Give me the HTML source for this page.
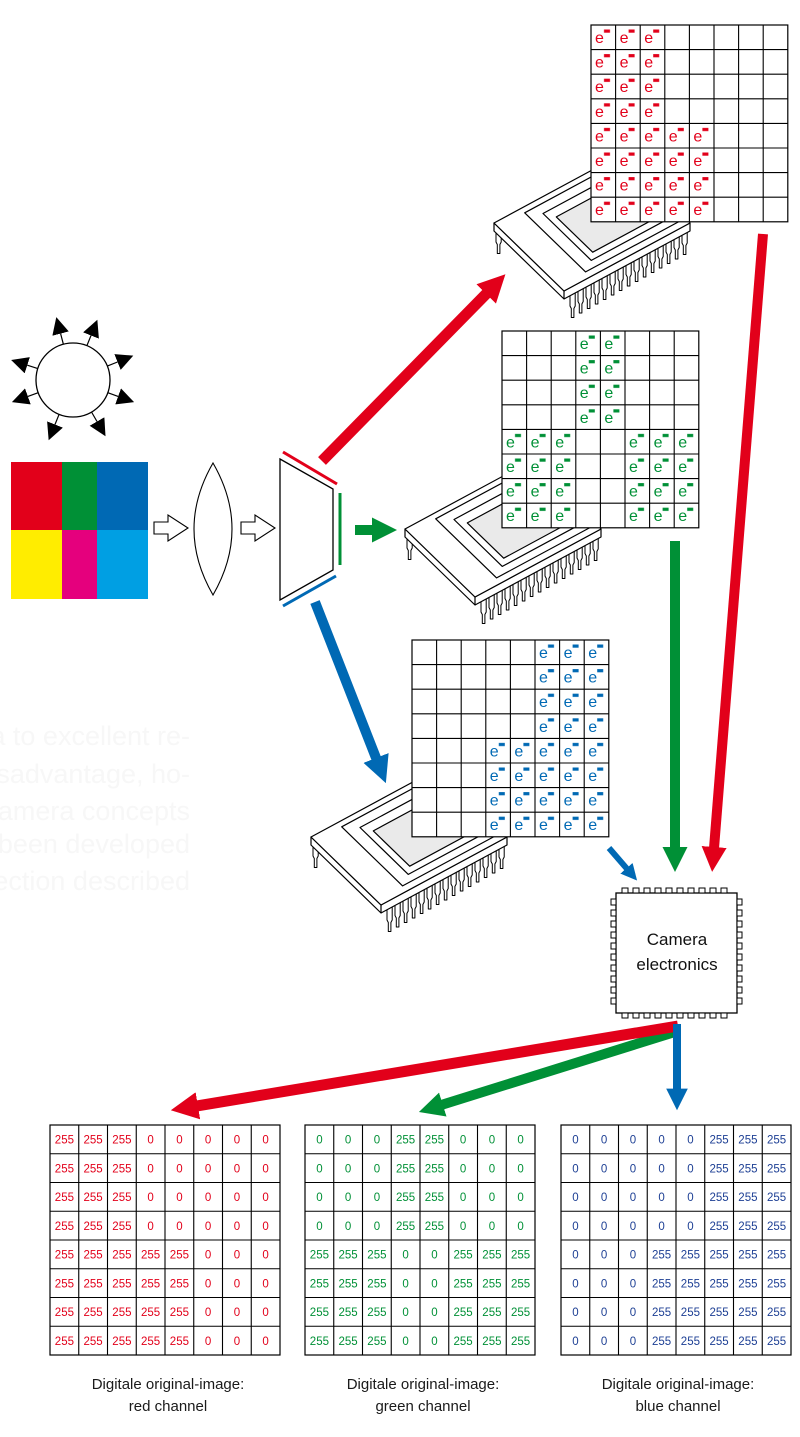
<!DOCTYPE html>
<html><head><meta charset="utf-8"><style>html,body{margin:0;padding:0;background:#fff}svg{display:block}</style></head><body>
<svg width="800" height="1437" viewBox="0 0 800 1437" xmlns="http://www.w3.org/2000/svg" font-family="Liberation Sans, sans-serif">
<defs>
<pattern id="bR" width="24.6" height="24.6" patternUnits="userSpaceOnUse"><rect x="13" y="4.5" width="6" height="3.2" fill="#e2001a"/></pattern>
<pattern id="bG" width="24.6" height="24.6" patternUnits="userSpaceOnUse"><rect x="13" y="4.5" width="6" height="3.2" fill="#009036"/></pattern>
<pattern id="bB" width="24.6" height="24.6" patternUnits="userSpaceOnUse"><rect x="13" y="4.5" width="6" height="3.2" fill="#0069b4"/></pattern>
<marker id="mR" viewBox="0 0 10 10" refX="2" refY="5" markerWidth="2.5" markerHeight="2.5" orient="auto"><path d="M0,0L10,5L0,10z" fill="#e2001a"/></marker>
<marker id="mG" viewBox="0 0 10 10" refX="2" refY="5" markerWidth="2.5" markerHeight="2.5" orient="auto"><path d="M0,0L10,5L0,10z" fill="#009036"/></marker>
<marker id="mB" viewBox="0 0 10 10" refX="2" refY="5" markerWidth="2.7" markerHeight="2.7" orient="auto"><path d="M0,0L10,5L0,10z" fill="#0069b4"/></marker>
<marker id="mK" viewBox="0 0 10 10" refX="0" refY="5" markerWidth="17" markerHeight="17" markerUnits="userSpaceOnUse" orient="auto"><path d="M0,0L10,5L0,10z" fill="#000"/></marker>
<path id="pin" d="M0 0v13l1.3 2.5v9h2.6v-9l1.3-2.5v-13" fill="#fff" stroke="#000" stroke-width="1"/>
<g id="chip" stroke="#000" stroke-width="1.2" stroke-linejoin="round">
  <g>
   <use href="#pin" x="2" y="6"/>
   <use href="#pin" x="76" y="70"/><use href="#pin" x="84" y="65.5"/><use href="#pin" x="92" y="61"/><use href="#pin" x="100" y="56.5"/><use href="#pin" x="108" y="52"/><use href="#pin" x="116" y="47.5"/><use href="#pin" x="124" y="43"/><use href="#pin" x="132" y="38.5"/><use href="#pin" x="140" y="34"/><use href="#pin" x="148" y="29.5"/><use href="#pin" x="156" y="25"/><use href="#pin" x="164" y="20.5"/><use href="#pin" x="172" y="16"/><use href="#pin" x="180" y="11.5"/><use href="#pin" x="188" y="7"/>
  </g>
  <path d="M0 0L70 68L196 0V8L70 76L0 8z" fill="#fff"/>
  <path d="M70 68V76"/>
  <path d="M0 0L70 68L196 0L126 -68z" fill="#fff"/>
  <path d="M30.7 -10.2L91.6 48.9L188.6 -3.4L127.7 -62.5z" fill="#fff"/>
  <path d="M49 -9.5L97.3 37.4L179.2 -6.8L130.9 -53.7z" fill="#fff"/>
  <path d="M62.3 -6.1L98.7 29.2L170.5 -9.6L134.1 -44.9z" fill="#eaeaea"/>
</g>
<path id="sgl" d="M24.6 0V196.8M49.2 0V196.8M73.8 0V196.8M98.4 0V196.8M123 0V196.8M147.6 0V196.8M172.2 0V196.8M0 24.6H196.8M0 49.2H196.8M0 73.8H196.8M0 98.4H196.8M0 123H196.8M0 147.6H196.8M0 172.2H196.8" stroke="#000" stroke-width="1.1" fill="none"/>
<path id="bgl" d="M28.75 0V230M57.5 0V230M86.25 0V230M115 0V230M143.75 0V230M172.5 0V230M201.25 0V230M0 28.75H230M0 57.5H230M0 86.25H230M0 115H230M0 143.75H230M0 172.5H230M0 201.25H230" stroke="#000" stroke-width="1.1" fill="none"/>
</defs>

<g fill="#f7f7f7" font-size="27" text-anchor="end">
<text x="190" y="745">a to excellent re-</text>
<text x="190" y="783">disadvantage, ho-</text>
<text x="190" y="820">camera concepts</text>
<text x="190" y="853">been developed</text>
<text x="190" y="890">ection described</text>
</g>

<circle cx="73" cy="380" r="37" fill="#fff" stroke="#000" stroke-width="1.3"/>
<g stroke="#000" stroke-width="1.2" marker-end="url(#mK)">
<line x1="63.4" y1="344.3" x2="60.6" y2="333.6"/>
<line x1="86.9" y1="345.7" x2="91" y2="335.5"/>
<line x1="107.3" y1="366.1" x2="117.5" y2="362"/>
<line x1="107.8" y1="392.7" x2="118.1" y2="396.4"/>
<line x1="91.5" y1="412" x2="97" y2="421.5"/>
<line x1="59.1" y1="414.3" x2="55" y2="424.5"/>
<line x1="38.2" y1="392.7" x2="27.9" y2="396.4"/>
<line x1="37.8" y1="368.6" x2="27.3" y2="365.2"/>
</g>

<rect x="11" y="462" width="51" height="68" fill="#e2001a"/>
<rect x="62" y="462" width="35" height="68" fill="#009036"/>
<rect x="97" y="462" width="51" height="68" fill="#0069b4"/>
<rect x="11" y="530" width="51" height="69" fill="#ffed00"/>
<rect x="62" y="530" width="35" height="69" fill="#e5007d"/>
<rect x="97" y="530" width="51" height="69" fill="#009fe3"/>

<g fill="#fff" stroke="#000" stroke-width="1.1">
<polygon points="154,522 168,522 168,515 188,528 168,541 168,534 154,534"/>
<polygon points="241,522 255,522 255,515 275,528 255,541 255,534 241,534"/>
<path d="M213 463Q251 529 213 595Q175 529 213 463z"/>
<polygon points="280,459 333,489 333,570 280,600" stroke-width="1.3"/>
</g>
<line x1="283" y1="452" x2="337" y2="484" stroke="#e2001a" stroke-width="3"/>
<line x1="340" y1="493" x2="340" y2="565" stroke="#009036" stroke-width="3"/>
<line x1="283" y1="606" x2="336" y2="576" stroke="#0069b4" stroke-width="3"/>

<use href="#chip" x="494" y="223"/>
<use href="#chip" x="405" y="529"/>
<use href="#chip" x="311" y="837"/>

<g transform="translate(591,25)">
<rect width="196.8" height="196.8" fill="#fff" stroke="#000" stroke-width="1.2"/><use href="#sgl"/>
<rect x="0" y="0" width="73.8" height="98.4" fill="url(#bR)"/><rect x="0" y="98.4" width="123" height="98.4" fill="url(#bR)"/>
<g fill="#e2001a" font-size="16">
<text x="4 28.6 53.2" y="18">eee</text><text x="4 28.6 53.2" y="42.6">eee</text><text x="4 28.6 53.2" y="67.2">eee</text><text x="4 28.6 53.2" y="91.8">eee</text>
<text x="4 28.6 53.2 77.8 102.4" y="116.4">eeeee</text><text x="4 28.6 53.2 77.8 102.4" y="141">eeeee</text><text x="4 28.6 53.2 77.8 102.4" y="165.6">eeeee</text><text x="4 28.6 53.2 77.8 102.4" y="190.2">eeeee</text>
</g></g>
<g transform="translate(502,331)">
<rect width="196.8" height="196.8" fill="#fff" stroke="#000" stroke-width="1.2"/><use href="#sgl"/>
<rect x="73.8" y="0" width="49.2" height="98.4" fill="url(#bG)"/><rect x="0" y="98.4" width="73.8" height="98.4" fill="url(#bG)"/><rect x="123" y="98.4" width="73.8" height="98.4" fill="url(#bG)"/>
<g fill="#009036" font-size="16">
<text x="77.8 102.4" y="18">ee</text><text x="77.8 102.4" y="42.6">ee</text><text x="77.8 102.4" y="67.2">ee</text><text x="77.8 102.4" y="91.8">ee</text>
<text x="4 28.6 53.2 127 151.6 176.2" y="116.4">eeeeee</text><text x="4 28.6 53.2 127 151.6 176.2" y="141">eeeeee</text><text x="4 28.6 53.2 127 151.6 176.2" y="165.6">eeeeee</text><text x="4 28.6 53.2 127 151.6 176.2" y="190.2">eeeeee</text>
</g></g>
<g transform="translate(412,640)">
<rect width="196.8" height="196.8" fill="#fff" stroke="#000" stroke-width="1.2"/><use href="#sgl"/>
<rect x="123" y="0" width="73.8" height="98.4" fill="url(#bB)"/><rect x="73.8" y="98.4" width="123" height="98.4" fill="url(#bB)"/>
<g fill="#0069b4" font-size="16">
<text x="127 151.6 176.2" y="18">eee</text><text x="127 151.6 176.2" y="42.6">eee</text><text x="127 151.6 176.2" y="67.2">eee</text><text x="127 151.6 176.2" y="91.8">eee</text>
<text x="77.8 102.4 127 151.6 176.2" y="116.4">eeeee</text><text x="77.8 102.4 127 151.6 176.2" y="141">eeeee</text><text x="77.8 102.4 127 151.6 176.2" y="165.6">eeeee</text><text x="77.8 102.4 127 151.6 176.2" y="190.2">eeeee</text>
</g></g>

<line x1="322" y1="461" x2="490" y2="290" stroke="#e2001a" stroke-width="11" marker-end="url(#mR)"/>
<line x1="355" y1="530" x2="377" y2="530" stroke="#009036" stroke-width="10" marker-end="url(#mG)"/>
<line x1="315" y1="602" x2="378" y2="763" stroke="#0069b4" stroke-width="10" marker-end="url(#mB)"/>
<line x1="763" y1="234" x2="713.7" y2="852" stroke="#e2001a" stroke-width="10" marker-end="url(#mR)"/>
<line x1="675" y1="541" x2="675" y2="852" stroke="#009036" stroke-width="10" marker-end="url(#mG)"/>
<line x1="609" y1="848" x2="628.6" y2="870.7" stroke="#0069b4" stroke-width="6" marker-end="url(#mB)"/>

<g fill="#fff" stroke="#000" stroke-width="1">
<rect x="616" y="893" width="121" height="120" stroke-width="1.3"/>
<g id="tp"><rect x="622" y="888" width="6" height="5"/><rect x="633" y="888" width="6" height="5"/><rect x="644" y="888" width="6" height="5"/><rect x="655" y="888" width="6" height="5"/><rect x="666" y="888" width="6" height="5"/><rect x="677" y="888" width="6" height="5"/><rect x="688" y="888" width="6" height="5"/><rect x="699" y="888" width="6" height="5"/><rect x="710" y="888" width="6" height="5"/><rect x="721" y="888" width="6" height="5"/></g>
<use href="#tp" y="125"/>
<g id="lp"><rect x="611" y="899" width="5" height="6"/><rect x="611" y="910" width="5" height="6"/><rect x="611" y="921" width="5" height="6"/><rect x="611" y="932" width="5" height="6"/><rect x="611" y="943" width="5" height="6"/><rect x="611" y="954" width="5" height="6"/><rect x="611" y="965" width="5" height="6"/><rect x="611" y="976" width="5" height="6"/><rect x="611" y="987" width="5" height="6"/><rect x="611" y="998" width="5" height="6"/></g>
<use href="#lp" x="126"/>
</g>
<text x="677" y="945" font-size="17" text-anchor="middle" fill="#111">Camera</text>
<text x="677" y="970" font-size="17" text-anchor="middle" fill="#111">electronics</text>

<line x1="678" y1="1031" x2="438" y2="1106" stroke="#009036" stroke-width="10" marker-end="url(#mG)"/>
<line x1="678" y1="1026" x2="192.5" y2="1106.7" stroke="#e2001a" stroke-width="11" marker-end="url(#mR)"/>
<line x1="677" y1="1024" x2="677" y2="1093" stroke="#0069b4" stroke-width="8" marker-end="url(#mB)"/>

<g transform="translate(50,1125)">
<rect width="230" height="230" fill="#fff" stroke="#000" stroke-width="1.2"/><use href="#bgl"/>
<g fill="#e2001a" font-size="11.5" text-anchor="middle">
<text y="18.5"><tspan x="14.4">255</tspan><tspan x="43.1">255</tspan><tspan x="71.9">255</tspan><tspan x="100.6">0</tspan><tspan x="129.4">0</tspan><tspan x="158.1">0</tspan><tspan x="186.9">0</tspan><tspan x="215.6">0</tspan></text>
<text y="47.25"><tspan x="14.4">255</tspan><tspan x="43.1">255</tspan><tspan x="71.9">255</tspan><tspan x="100.6">0</tspan><tspan x="129.4">0</tspan><tspan x="158.1">0</tspan><tspan x="186.9">0</tspan><tspan x="215.6">0</tspan></text>
<text y="76"><tspan x="14.4">255</tspan><tspan x="43.1">255</tspan><tspan x="71.9">255</tspan><tspan x="100.6">0</tspan><tspan x="129.4">0</tspan><tspan x="158.1">0</tspan><tspan x="186.9">0</tspan><tspan x="215.6">0</tspan></text>
<text y="104.75"><tspan x="14.4">255</tspan><tspan x="43.1">255</tspan><tspan x="71.9">255</tspan><tspan x="100.6">0</tspan><tspan x="129.4">0</tspan><tspan x="158.1">0</tspan><tspan x="186.9">0</tspan><tspan x="215.6">0</tspan></text>
<text y="133.5"><tspan x="14.4">255</tspan><tspan x="43.1">255</tspan><tspan x="71.9">255</tspan><tspan x="100.6">255</tspan><tspan x="129.4">255</tspan><tspan x="158.1">0</tspan><tspan x="186.9">0</tspan><tspan x="215.6">0</tspan></text>
<text y="162.25"><tspan x="14.4">255</tspan><tspan x="43.1">255</tspan><tspan x="71.9">255</tspan><tspan x="100.6">255</tspan><tspan x="129.4">255</tspan><tspan x="158.1">0</tspan><tspan x="186.9">0</tspan><tspan x="215.6">0</tspan></text>
<text y="191"><tspan x="14.4">255</tspan><tspan x="43.1">255</tspan><tspan x="71.9">255</tspan><tspan x="100.6">255</tspan><tspan x="129.4">255</tspan><tspan x="158.1">0</tspan><tspan x="186.9">0</tspan><tspan x="215.6">0</tspan></text>
<text y="219.75"><tspan x="14.4">255</tspan><tspan x="43.1">255</tspan><tspan x="71.9">255</tspan><tspan x="100.6">255</tspan><tspan x="129.4">255</tspan><tspan x="158.1">0</tspan><tspan x="186.9">0</tspan><tspan x="215.6">0</tspan></text>
</g></g>
<g transform="translate(305,1125)">
<rect width="230" height="230" fill="#fff" stroke="#000" stroke-width="1.2"/><use href="#bgl"/>
<g fill="#009036" font-size="11.5" text-anchor="middle">
<text y="18.5"><tspan x="14.4">0</tspan><tspan x="43.1">0</tspan><tspan x="71.9">0</tspan><tspan x="100.6">255</tspan><tspan x="129.4">255</tspan><tspan x="158.1">0</tspan><tspan x="186.9">0</tspan><tspan x="215.6">0</tspan></text>
<text y="47.25"><tspan x="14.4">0</tspan><tspan x="43.1">0</tspan><tspan x="71.9">0</tspan><tspan x="100.6">255</tspan><tspan x="129.4">255</tspan><tspan x="158.1">0</tspan><tspan x="186.9">0</tspan><tspan x="215.6">0</tspan></text>
<text y="76"><tspan x="14.4">0</tspan><tspan x="43.1">0</tspan><tspan x="71.9">0</tspan><tspan x="100.6">255</tspan><tspan x="129.4">255</tspan><tspan x="158.1">0</tspan><tspan x="186.9">0</tspan><tspan x="215.6">0</tspan></text>
<text y="104.75"><tspan x="14.4">0</tspan><tspan x="43.1">0</tspan><tspan x="71.9">0</tspan><tspan x="100.6">255</tspan><tspan x="129.4">255</tspan><tspan x="158.1">0</tspan><tspan x="186.9">0</tspan><tspan x="215.6">0</tspan></text>
<text y="133.5"><tspan x="14.4">255</tspan><tspan x="43.1">255</tspan><tspan x="71.9">255</tspan><tspan x="100.6">0</tspan><tspan x="129.4">0</tspan><tspan x="158.1">255</tspan><tspan x="186.9">255</tspan><tspan x="215.6">255</tspan></text>
<text y="162.25"><tspan x="14.4">255</tspan><tspan x="43.1">255</tspan><tspan x="71.9">255</tspan><tspan x="100.6">0</tspan><tspan x="129.4">0</tspan><tspan x="158.1">255</tspan><tspan x="186.9">255</tspan><tspan x="215.6">255</tspan></text>
<text y="191"><tspan x="14.4">255</tspan><tspan x="43.1">255</tspan><tspan x="71.9">255</tspan><tspan x="100.6">0</tspan><tspan x="129.4">0</tspan><tspan x="158.1">255</tspan><tspan x="186.9">255</tspan><tspan x="215.6">255</tspan></text>
<text y="219.75"><tspan x="14.4">255</tspan><tspan x="43.1">255</tspan><tspan x="71.9">255</tspan><tspan x="100.6">0</tspan><tspan x="129.4">0</tspan><tspan x="158.1">255</tspan><tspan x="186.9">255</tspan><tspan x="215.6">255</tspan></text>
</g></g>
<g transform="translate(561,1125)">
<rect width="230" height="230" fill="#fff" stroke="#000" stroke-width="1.2"/><use href="#bgl"/>
<g fill="#1d3f94" font-size="11.5" text-anchor="middle">
<text y="18.5"><tspan x="14.4">0</tspan><tspan x="43.1">0</tspan><tspan x="71.9">0</tspan><tspan x="100.6">0</tspan><tspan x="129.4">0</tspan><tspan x="158.1">255</tspan><tspan x="186.9">255</tspan><tspan x="215.6">255</tspan></text>
<text y="47.25"><tspan x="14.4">0</tspan><tspan x="43.1">0</tspan><tspan x="71.9">0</tspan><tspan x="100.6">0</tspan><tspan x="129.4">0</tspan><tspan x="158.1">255</tspan><tspan x="186.9">255</tspan><tspan x="215.6">255</tspan></text>
<text y="76"><tspan x="14.4">0</tspan><tspan x="43.1">0</tspan><tspan x="71.9">0</tspan><tspan x="100.6">0</tspan><tspan x="129.4">0</tspan><tspan x="158.1">255</tspan><tspan x="186.9">255</tspan><tspan x="215.6">255</tspan></text>
<text y="104.75"><tspan x="14.4">0</tspan><tspan x="43.1">0</tspan><tspan x="71.9">0</tspan><tspan x="100.6">0</tspan><tspan x="129.4">0</tspan><tspan x="158.1">255</tspan><tspan x="186.9">255</tspan><tspan x="215.6">255</tspan></text>
<text y="133.5"><tspan x="14.4">0</tspan><tspan x="43.1">0</tspan><tspan x="71.9">0</tspan><tspan x="100.6">255</tspan><tspan x="129.4">255</tspan><tspan x="158.1">255</tspan><tspan x="186.9">255</tspan><tspan x="215.6">255</tspan></text>
<text y="162.25"><tspan x="14.4">0</tspan><tspan x="43.1">0</tspan><tspan x="71.9">0</tspan><tspan x="100.6">255</tspan><tspan x="129.4">255</tspan><tspan x="158.1">255</tspan><tspan x="186.9">255</tspan><tspan x="215.6">255</tspan></text>
<text y="191"><tspan x="14.4">0</tspan><tspan x="43.1">0</tspan><tspan x="71.9">0</tspan><tspan x="100.6">255</tspan><tspan x="129.4">255</tspan><tspan x="158.1">255</tspan><tspan x="186.9">255</tspan><tspan x="215.6">255</tspan></text>
<text y="219.75"><tspan x="14.4">0</tspan><tspan x="43.1">0</tspan><tspan x="71.9">0</tspan><tspan x="100.6">255</tspan><tspan x="129.4">255</tspan><tspan x="158.1">255</tspan><tspan x="186.9">255</tspan><tspan x="215.6">255</tspan></text>
</g></g>

<g font-size="15" text-anchor="middle" fill="#1a1a1a">
<text x="168" y="1389">Digitale original-image:</text><text x="168" y="1411">red channel</text>
<text x="423" y="1389">Digitale original-image:</text><text x="423" y="1411">green channel</text>
<text x="678" y="1389">Digitale original-image:</text><text x="678" y="1411">blue channel</text>
</g>
</svg>
</body></html>
